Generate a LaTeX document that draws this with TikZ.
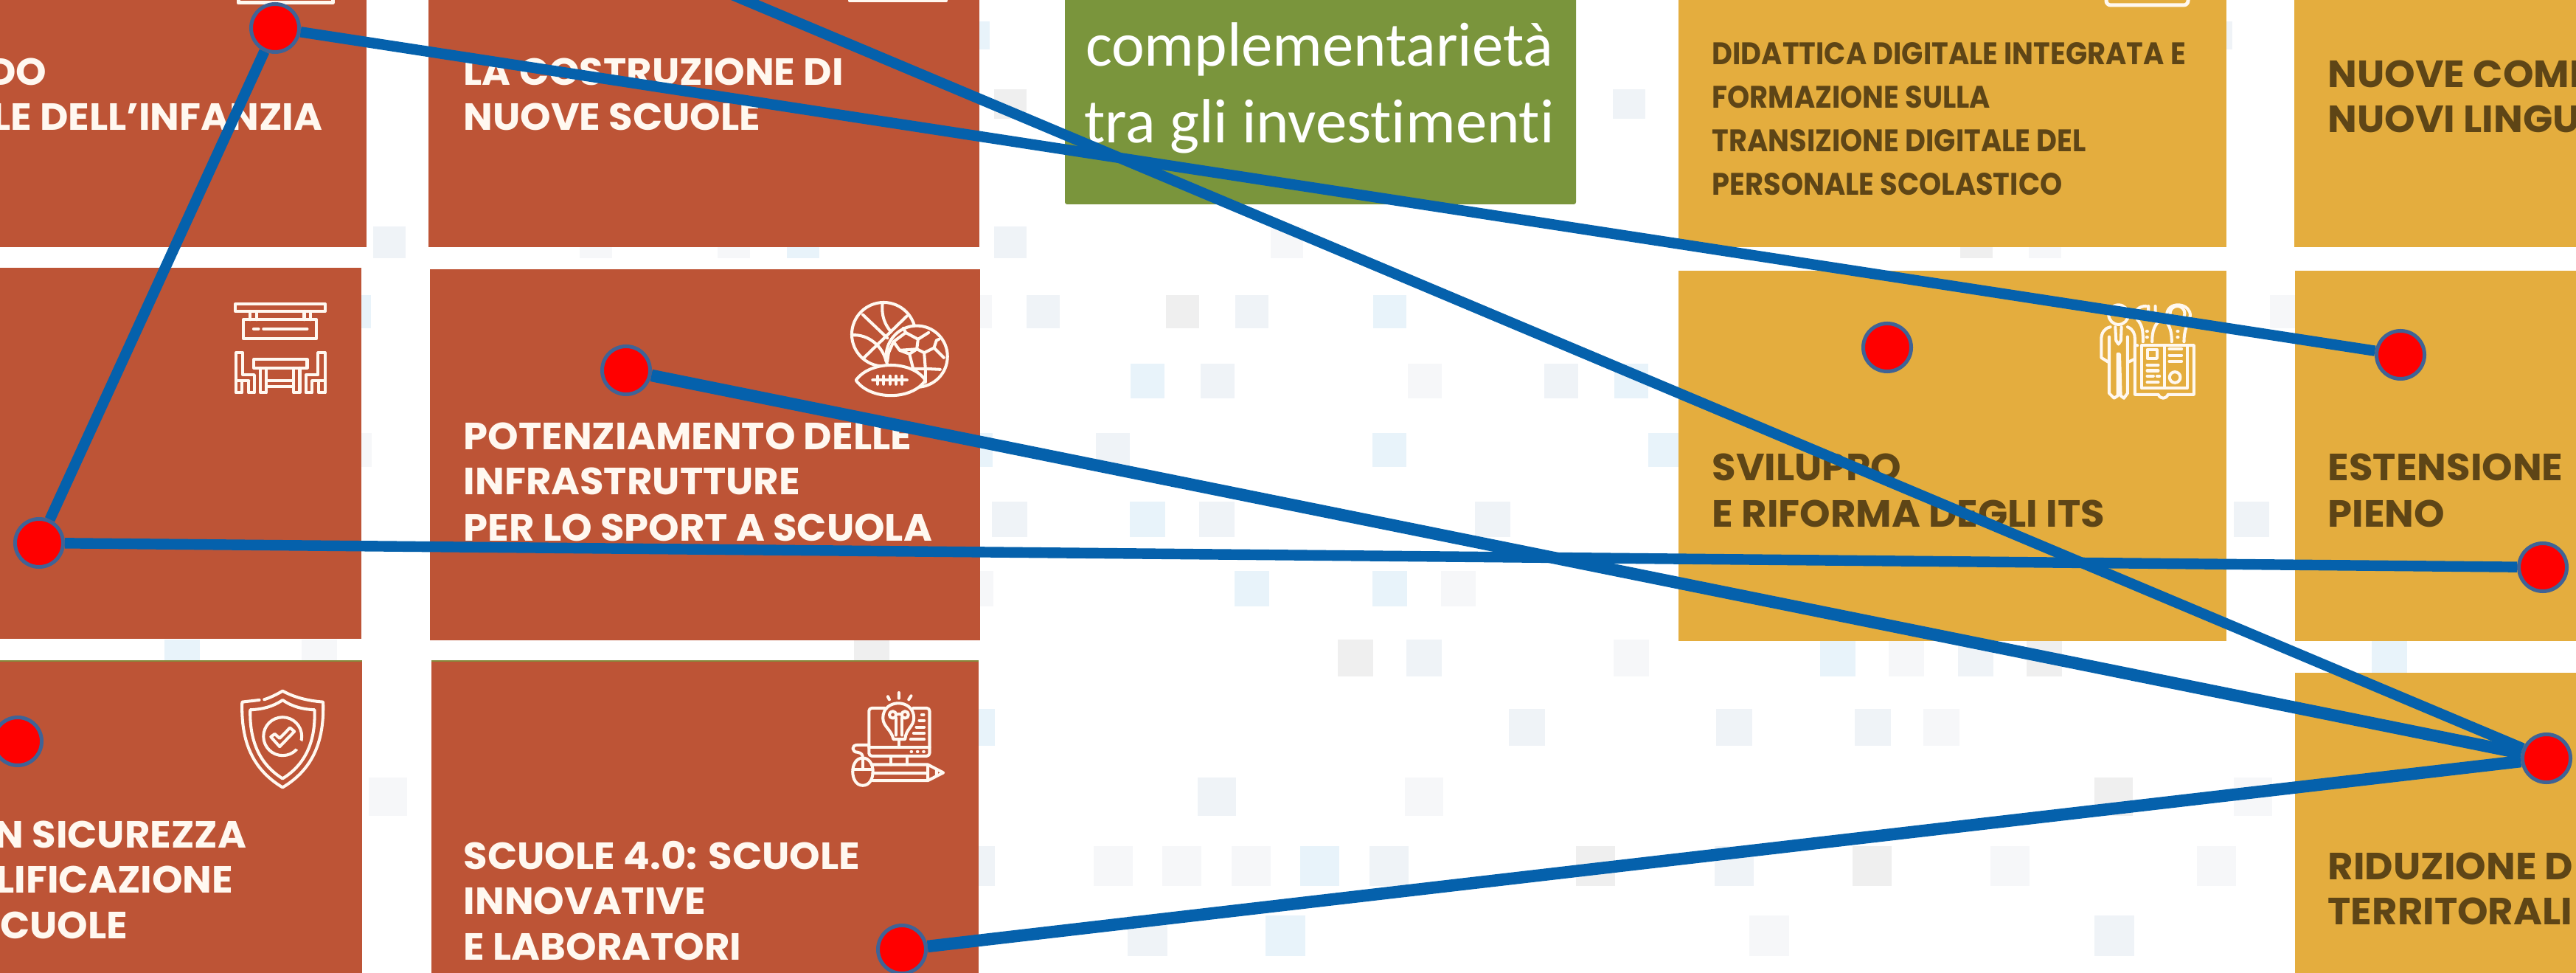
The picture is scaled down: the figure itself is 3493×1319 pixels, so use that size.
\documentclass[tikz,border=0pt]{standalone}
\usepackage{fontspec}
\setmainfont{Carlito}[Ligatures=NoCommon]
\newfontfamily\cardfont[FakeStretch=1.03]{Poppins Bold}
\newfontfamily\smallcardfont[FakeStretch=0.91]{Poppins Bold}
\definecolor{brick}{HTML}{BD5436}
\definecolor{gold}{HTML}{E4AD3E}
\definecolor{olive}{HTML}{7A953C}
\definecolor{ink}{HTML}{5E4516}
\definecolor{cream}{HTML}{FFF8F0}
\definecolor{wire}{HTML}{0561AC}
\definecolor{rim}{HTML}{3F6396}
\definecolor{sqb}{HTML}{E8F3FA}
\definecolor{sqn}{HTML}{EFF3F7}
\definecolor{sqg}{HTML}{EFEFEF}
\definecolor{sql}{HTML}{F6F7F9}
\newcommand\sqrow[4]{\foreach \a/\c in {#4} {\fill[\c] (\a,#1) rectangle (\a+#3,#2);}}
\tikzset{
  redcard/.style={fill=brick},
  goldcard/.style={fill=gold},
  wtext/.style={font=\cardfont\fontsize{14.6pt}{14.6pt}\selectfont,text=cream,inner sep=0pt,anchor=base west},
  wtextr/.style={wtext,anchor=base east},
  dtext/.style={font=\cardfont\fontsize{14.6pt}{14.6pt}\selectfont,text=ink,inner sep=0pt,anchor=base west},
  dsmall/.style={font=\smallcardfont\fontsize{12pt}{12pt}\selectfont,text=ink,inner sep=0pt,anchor=base west},
  gtext/.style={font=\fontsize{24.1pt}{24.1pt}\selectfont,text=white,inner sep=0pt,anchor=base},
  dot/.style={circle,draw=rim,fill=red,line width=1.42pt,minimum size=0.65cm,inner sep=0pt},
  wirel/.style={draw=wire,line width=4.1pt},
  wireh/.style={draw=wire,line width=4.7pt},
  ico/.style={draw=cream,line width=1.15pt,line join=round,line cap=round},
}
\begin{document}
\begin{tikzpicture}[x=0.01cm,y=-0.01cm]
\useasboundingbox (0,0) rectangle (3493,1319);
\clip (0,0) rectangle (3493,1319);
\fill[white] (0,0) rectangle (3493,1319);
% pale background squares
\sqrow{29}{67}{44}{1298/sqb,2983/sqn}
\sqrow{121}{161}{44}{1348/sqg,2187/sqn}
\sqrow{307}{350}{44}{506/sqn,786/sql,973/sql,1067/sqb,1348/sqn,1723/sql,2658/sqg,2751/sql}
\sqrow{400}{445}{45}{458/sqb,1300/sql,1392/sqn,1581/sqg,1675/sqn,1862/sqb,3078/sql}
\sqrow{493}{540}{46}{1533/sqb,1628/sqn,1909/sql,2094/sqn,2189/sqb}
\sqrow{587}{633}{46}{458/sql,1300/sqb,1486/sqn,1861/sqb,2235/sqb}
\sqrow{680}{728}{48}{1345/sqn,1532/sqb,1626/sqn,2000/sqn,3029/sqn}
\sqrow{774}{822}{47}{1300/sql,1674/sqb,1861/sqb,1954/sql}
\sqrow{867}{917}{48}{223/sqb,409/sql,1158/sqg,1814/sqg,1907/sqn,2188/sql,2468/sqb,2561/sql,2655/sqn,2748/sqg,3216/sqb}
\sqrow{961}{1011}{49}{1300/sqb,2046/sqn,2327/sqn,2515/sqn,2608/sql}
\sqrow{1054}{1106}{52}{500/sql,1624/sqn,1905/sql,2840/sqg,3029/sql}
\sqrow{1147}{1201}{53}{1296/sqn,1483/sql,1576/sql,1670/sql,1763/sqb,1857/sqn,2137/sqg,2325/sqn,2512/sqg,2699/sql,2979/sql}
\sqrow{1241}{1296}{54}{1529/sqn,1716/sqb,2372/sql,2840/sqn}
% cards
\fill[redcard] (-10,-10) rectangle (497,335);
\fill[redcard] (581,-10) rectangle (1328,335);
\fill[redcard] (-10,363) rectangle (490,866);
\fill[redcard] (583,365) rectangle (1329,868);
\fill[olive!80!brick] (-10,895) rectangle (491,899);
\fill[olive!80!brick] (585,895) rectangle (1327,899);
\fill[redcard] (-10,897) rectangle (491,1330);
\fill[redcard] (585,897) rectangle (1327,1330);
\fill[goldcard] (2276,-10) rectangle (3019,335);
\fill[goldcard] (2276,367) rectangle (3019,869);
\fill[goldcard] (3111,-10) rectangle (3510,335);
\fill[goldcard] (3112,367) rectangle (3510,869);
\fill[goldcard] (3112,912) rectangle (3510,1330);
\fill[olive,rounded corners=0.85pt] (1444,-30) rectangle (2137,277);
% green box text
\node (gg) [gtext] at (1860,-14) {g};
\node (g1) [gtext] at (1789,90) {complementarietà};
\node (g2) [gtext] at (1789,194) {tra gli investimenti};
% card texts
\node (a1) [wtextr] at (64,116) {DO};
\node (a2) [wtextr] at (438,177) {LE DELL’INFANZIA};
\node (b1) [wtext] at (628,116) {LA COSTRUZIONE DI};
\node (b2) [wtext] at (628,177) {NUOVE SCUOLE};
\node (c1) [wtext] at (628,610) {POTENZIAMENTO DELLE};
\node (c2) [wtext] at (628,671) {INFRASTRUTTURE};
\node (c3) [wtext] at (628,734) {PER LO SPORT A SCUOLA};
\node (e1) [wtextr] at (335,1149) {N SICUREZZA};
\node (e2) [wtextr] at (317,1210) {LIFICAZIONE};
\node (e3) [wtextr] at (174,1272) {CUOLE};
\node (f1) [wtext] at (628,1178) {SCUOLE 4.0: SCUOLE};
\node (f2) [wtext] at (628,1239) {INNOVATIVE};
\node (f3) [wtext] at (628,1301) {E LABORATORI};
\node (h1) [dsmall] at (2321,88) {DIDATTICA DIGITALE INTEGRATA E};
\node (h2) [dsmall] at (2321,147) {FORMAZIONE SULLA};
\node (h3) [dsmall] at (2321,206) {TRANSIZIONE DIGITALE DEL};
\node (h4) [dsmall] at (2321,265) {PERSONALE SCOLASTICO};
\node (i1) [dtext] at (3156,119) {NUOVE COMP};
\node (i2) [dtext] at (3156,180) {NUOVI LINGU};
\node (j1) [dtext] at (2321,652) {SVILUPPO};
\node (j2) [dtext] at (2321,715) {E RIFORMA DEGLI ITS};
\node (k1) [dtext] at (3156,652) {ESTENSIONE};
\node (k2) [dtext] at (3156,715) {PIENO};
\node (l1) [dtext] at (3156,1192) {RIDUZIONE D};
\node (l2) [dtext] at (3156,1253) {TERRITORALI};
% cropped icon bottoms
\draw[ico,line width=1.42pt] (323,-8) -- (323,4) -- (451,4) -- (451,-8);
\draw[ico,line width=1.14pt] (1152,-4) -- (1152,1) -- (1283,1) -- (1283,-4);
\draw[ico,line width=1.42pt,rounded corners=1.7pt] (2856,-8) -- (2856,7) -- (2967,7) -- (2967,-8);
% table icon
\begin{scope}[shift={(300,400)},x=0.00333cm,y=-0.00333cm]
\draw[ico] (58,36) rectangle (423,66);
\draw[ico] (118,66) -- (118,100) (145,66) -- (145,100) (338,66) -- (338,100) (365,66) -- (365,100);
\draw[ico] (90,100) rectangle (388,178);
\draw[ico] (132,138) -- (152,138) (172,138) -- (350,138);
\draw[ico] (133,262) rectangle (350,297);
\draw[ico] (160,297) -- (160,398) -- (183,398) -- (183,297) (295,297) -- (295,398) -- (320,398) -- (320,297);
\draw[ico] (183,350) -- (295,350) (183,372) -- (295,372);
\draw[ico] (60,235) -- (88,235) -- (88,325) -- (135,325) -- (135,398) -- (112,398) -- (112,350) -- (84,350) -- (84,398) -- (60,398) -- cycle (60,350) -- (112,350);
\draw[ico] (423,235) -- (395,235) -- (395,325) -- (345,325) -- (345,398) -- (370,398) -- (370,350) -- (398,350) -- (398,398) -- (423,398) -- cycle (423,350) -- (370,350);
\end{scope}
% balls icon
\begin{scope}[shift={(1140,395)},x=0.00333cm,y=-0.00333cm]
\draw[ico] (175,175) circle [radius=130];
\draw[ico] (170,50) .. controls (165,100) and (180,135) .. (205,165) (90,95) -- (190,190) (270,100) -- (95,270) (50,178) .. controls (110,175) and (170,220) .. (185,285);
\fill[brick] (310,265) circle [radius=125];
\draw[ico] (310,265) circle [radius=125];
\draw[ico] (265,168) -- (315,195) -- (310,235) -- (240,240) -- (215,205) -- cycle (265,168) -- (255,150) (315,195) -- (358,168) (310,235) -- (280,255) -- (295,315) -- (345,315) -- (340,250) -- (310,235) (340,250) -- (380,230) -- (420,270) (380,230) -- (390,200) -- (400,195) (345,315) -- (405,318) (240,240) -- (280,255) (215,205) -- (195,250) -- (190,285) (295,315) -- (345,360) (345,315) -- (345,370);
\fill[brick] (62,362) .. controls (120,280) and (290,280) .. (345,362) .. controls (290,445) and (120,445) .. (62,362) -- cycle;
\draw[ico] (62,362) .. controls (120,280) and (290,280) .. (345,362) .. controls (290,445) and (120,445) .. (62,362) -- cycle;
\draw[ico] (130,362) -- (270,362) (150,345) -- (150,378) (175,345) -- (175,378) (200,345) -- (200,378) (225,345) -- (225,378) (250,345) -- (250,378);
\end{scope}
% shield icon
\begin{scope}[shift={(310,925)},x=0.00333cm,y=-0.00333cm]
\draw[ico] (125,72) -- (55,80) .. controls (50,230) and (90,350) .. (220,428) .. controls (350,350) and (390,230) .. (385,80) .. controls (320,75) and (265,60) .. (220,35) .. controls (195,50) and (170,62) .. (145,70);
\draw[ico] (220,72) .. controls (180,100) and (135,110) .. (88,112) .. controls (85,230) and (120,330) .. (220,392) .. controls (320,330) and (355,230) .. (350,112) .. controls (305,110) and (260,100) .. (220,72) -- cycle;
\draw[ico] (220,220) circle [radius=78];
\draw[brick,line width=2.2pt] (298,240) -- (278,272);
\draw[ico] (172,222) -- (188,210) -- (208,228) -- (250,185) -- (268,200) -- (208,262) -- cycle;
\end{scope}
% bulb and computer icon
\begin{scope}[shift={(1140,925)},x=0.00333cm,y=-0.00333cm]
\draw[ico] (192,58) -- (198,70) (237,42) -- (237,65) (287,55) -- (277,70);
\draw[ico,rounded corners=1.1pt] (180,105) -- (115,105) -- (115,300) -- (362,300) -- (362,105) -- (295,105);
\draw[ico] (115,265) -- (362,265);
\draw[ico] (215,232) .. controls (205,190) and (172,180) .. (172,145) .. controls (172,65) and (298,65) .. (298,145) .. controls (298,180) and (265,190) .. (262,232) -- cycle;
\draw[ico] (237,232) -- (237,265);
\draw[ico] (225,215) -- (225,145) (250,215) -- (250,145) (225,130) -- (250,130);
\draw[ico] (212,132) circle [radius=14] (262,132) circle [radius=14];
\draw[ico] (330,132) -- (338,132) (320,155) -- (340,155) (308,182) -- (340,182) (297,207) -- (340,207) (285,232) -- (340,232);
\draw[ico] (287,282) -- (289,282) (312,282) -- (314,282) (337,282) -- (339,282);
\draw[ico] (205,300) -- (205,335) (270,300) -- (270,335);
\draw[ico] (115,255) -- (70,255) .. controls (40,255) and (45,285) .. (70,285) .. controls (85,288) and (90,295) .. (90,310);
\draw[ico] (130,335) -- (355,335) -- (418,368) -- (355,400) -- (130,400) (130,370) -- (355,370) (355,335) -- (355,400) (390,355) -- (390,382);
\draw[ico] (90,308) .. controls (145,308) and (145,420) .. (90,420) .. controls (35,420) and (35,308) .. (90,308) -- cycle;
\draw[ico] (50,355) -- (130,355) (90,312) -- (90,355);
\end{scope}
% person and book icon
\begin{scope}[shift={(2830,400)},x=0.00333cm,y=-0.00333cm]
\draw[ico] (128,80) circle [radius=40];
\draw[ico] (95,130) .. controls (70,135) and (58,155) .. (58,180) -- (58,255) -- (85,272) (90,170) -- (90,400) -- (110,420) -- (125,410) -- (125,240) -- (132,240) -- (137,410) -- (150,420) -- (165,400) -- (165,170) (165,130) .. controls (190,140) and (195,160) .. (195,180) -- (195,260) -- (170,272);
\draw[ico] (115,130) -- (118,185) -- (128,200) -- (138,185) -- (140,130);
\draw[ico] (205,100) .. controls (225,125) and (228,140) .. (228,190) (265,190) .. controls (265,145) and (275,120) .. (300,100) (345,190) .. controls (345,145) and (335,120) .. (315,100) (395,190) .. controls (395,140) and (410,120) .. (420,85) .. controls (425,35) and (335,20) .. (325,75);
\draw[ico] (205,100) .. controls (185,60) and (215,45) .. (240,45) (250,45) -- (250,80) (278,45) -- (278,80);
\draw[ico] (368,75) circle [radius=30];
\draw[ico] (243,148) -- (246,148) (243,172) -- (246,172) (368,148) -- (371,148) (368,172) -- (371,172);
\draw[ico] (205,205) -- (195,205) -- (195,405) -- (290,405) .. controls (300,425) and (320,425) .. (330,405) -- (435,405) -- (435,205) -- (410,205);
\draw[ico] (222,380) -- (222,205) -- (315,205) -- (315,380) -- cycle (315,205) -- (408,205) -- (408,380) -- (315,380);
\draw[ico] (245,222) rectangle (285,258);
\draw[ico] (245,285) -- (290,285) (245,308) -- (290,308) (245,330) -- (270,330) (285,330) -- (295,330) (245,355) -- (290,355);
\draw[ico] (335,220) -- (385,220) (335,245) -- (385,245) (335,270) -- (385,270);
\draw[ico] (358,335) circle [radius=22];
\end{scope}
% dots
\node (d1) [dot] at (373,38) {};
\node (d2) [dot] at (849,502) {};
\node (d3) [dot] at (53,736) {};
\node (d4) [dot] at (24,1005) {};
\node (d5) [dot] at (1223,1287) {};
\node (d6) [dot] at (2559,471) {};
\node (d7) [dot] at (3255,481) {};
\node (d8) [dot] at (3448,769) {};
\node (d9) [dot] at (3453,1028) {};
\coordinate (far) at (962,-20);
% connectors
\draw[wirel] (d1) -- (d3);
\draw[wirel] (d1) -- (d7);
\draw[wirel] (far) -- (d9);
\draw[wireh] (d2) -- (d9);
\draw[wirel] (d3) -- (d8);
\draw[wireh] (d5) -- (d9);
\end{tikzpicture}
\end{document}
